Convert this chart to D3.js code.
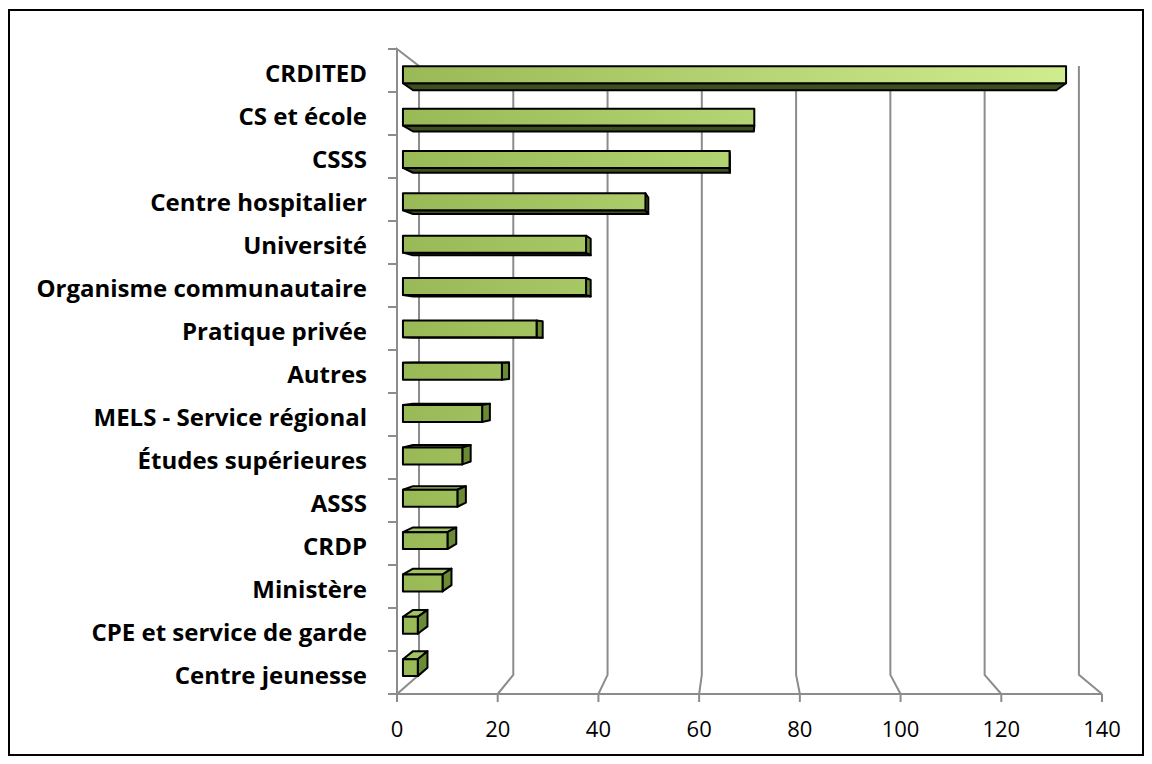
<!DOCTYPE html>
<html>
<head>
<meta charset="utf-8">
<script src="https://cdn.jsdelivr.net/npm/d3@7"></script>
<style>
  html, body { margin: 0; padding: 0; background: #fff; }
  svg { display: block; }
  .lbl { font-family: "Open Sans", Lato, sans-serif; font-weight: bold; font-size: 24px; fill: #000; }
  .tick { font-family: "Open Sans", Lato, sans-serif; font-size: 22px; fill: #000; }
</style>
</head>
<body>
<svg id="chart" width="1152" height="764"></svg>
<script>
// values
const categories = ['CRDITED', 'CS et école', 'CSSS', 'Centre hospitalier', 'Université',
    'Organisme communautaire', 'Pratique privée', 'Autres', 'MELS - Service régional',
    'Études supérieures', 'ASSS', 'CRDP', 'Ministère', 'CPE et service de garde', 'Centre jeunesse'];
const values = [134, 71, 66, 49, 37, 37, 27, 20, 16, 12, 11, 9, 8, 3, 3];
const xTicks = [0, 20, 40, 60, 80, 100, 120, 140];

// fake perspective: back wall shrinks toward a vanishing point
const VX = 741, VY = 352, SX = 0.936, SY = 0.944;
function P(px, py, z) {
    return [VX + (px - VX) * (1 - z * (1 - SX)), VY + (py - VY) * (1 - z * (1 - SY))];
}

const svg = d3.select('#chart');
const x = d3.scaleLinear().domain([0, 140]).range([397, 1102]);
const y = d3.scaleBand().domain(categories).range([49, 694]);
const grid = '#8c8c8c';

// outer frame
svg.append('rect').attr('x', 9).attr('y', 10).attr('width', 1134).attr('height', 745)
    .attr('fill', 'none').attr('stroke', '#000').attr('stroke-width', 2);

const defs = svg.append('defs');
const grad = defs.append('linearGradient').attr('id', 'barGrad')
    .attr('gradientUnits', 'userSpaceOnUse')
    .attr('x1', 400).attr('x2', 1070).attr('y1', 0).attr('y2', 0);
grad.append('stop').attr('offset', 0).attr('stop-color', '#98b956');
grad.append('stop').attr('offset', 1).attr('stop-color', '#d0ed8e');

const line = d3.line();
const walls = svg.append('g').attr('fill', 'none').attr('stroke', grid).attr('stroke-width', 2);

// back wall gridlines + floor diagonals
xTicks.forEach(function(t) {
    let front = P(x(t), 694, 0);
    let backBot = P(x(t), 694, 1);
    let backTop = P(x(t), 49, 1);
    walls.append('path').attr('d', line([backTop, backBot, front]));
    walls.append('path').attr('d', line([[x(t), 694], [x(t), 702]]));
});
// floor front edge
walls.append('path').attr('d', line([[x(0), 694], [x(140), 694]]));
// left wall
walls.append('path').attr('d', line([P(x(0), 49, 1), [x(0), 49], [x(0), 694]]));
const bounds = categories.map(c => y(c)).concat([694]);
bounds.forEach(function(b) {
    walls.append('path').attr('d', line([[x(0) - 9, b], [x(0), b]]));
});

// x tick labels
svg.append('g').selectAll('text').data(xTicks).enter().append('text')
    .attr('class', 'tick')
    .attr('x', d => x(d))
    .attr('y', 737)
    .attr('text-anchor', 'middle')
    .text(d => d);

// category labels
svg.append('g').selectAll('text').data(categories).enter().append('text')
    .attr('class', 'lbl')
    .attr('x', 367)
    .attr('y', d => y(d) + y.bandwidth() / 2 + 3)
    .attr('dy', '0.35em')
    .attr('text-anchor', 'end')
    .text(d => d);

// 3d bars
const z1 = 0.27, z2 = 0.73, half = 8.6;
const bars = svg.append('g').attr('stroke', '#000').attr('stroke-width', 2).attr('stroke-linejoin', 'round');
categories.forEach(function(c, i) {
    let x0 = x(0), x1 = x(values[i]);
    let mid = y(c) + y.bandwidth() / 2;
    let yT = mid - half, yB = mid + half;
    let g = bars.append('g');
    if (yB < VY) {
        g.append('path').attr('fill', '#3e4e1f')
            .attr('d', line([P(x0, yB, z1), P(x1, yB, z1), P(x1, yB, z2), P(x0, yB, z2)]) + 'Z');
    }
    if (yT > VY) {
        g.append('path').attr('fill', '#a3c263')
            .attr('d', line([P(x0, yT, z1), P(x1, yT, z1), P(x1, yT, z2), P(x0, yT, z2)]) + 'Z');
    }
    if (x1 < VX) {
        g.append('path').attr('fill', '#6b8a34')
            .attr('d', line([P(x1, yT, z1), P(x1, yT, z2), P(x1, yB, z2), P(x1, yB, z1)]) + 'Z');
    }
    g.append('path').attr('fill', 'url(#barGrad)')
        .attr('d', line([P(x0, yT, z1), P(x1, yT, z1), P(x1, yB, z1), P(x0, yB, z1)]) + 'Z');
});
</script>
</body>
</html>
